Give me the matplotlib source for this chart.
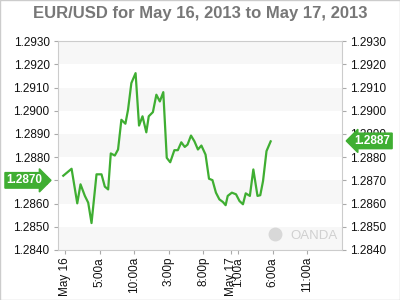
import matplotlib.pyplot as plt

plt.rcParams['font.family'] = ['Liberation Sans', 'DejaVu Sans']

# hours since May 16 00:00
hours = [-0.24, 0.96, 1.78, 2.25, 2.88, 3.36, 3.84, 4.56, 5.28, 5.76, 6.24,
         6.62, 7.2, 7.67, 8.15, 8.73, 9.11, 9.59, 10.2, 10.7, 11.2, 11.75,
         12.1, 12.7, 13.2, 13.7, 14.2, 14.7, 15.2, 15.8, 16.3, 16.8, 17.3,
         17.7, 18.2, 18.7, 19.2, 19.7, 20.3, 20.8, 21.3, 21.8, 22.3, 22.8,
         23.2, 23.5, 24.1, 24.7, 25.2, 25.7, 26.1, 26.7, 27.2, 27.8, 28.2,
         28.6, 29.1, 29.7]
prices = [1.28720, 1.28750, 1.28601, 1.28683, 1.28633, 1.28604, 1.28516,
          1.28726, 1.28726, 1.28673, 1.28661, 1.28816, 1.28807, 1.28833,
          1.28961, 1.28944, 1.29004, 1.29119, 1.29162, 1.28936, 1.28976,
          1.28907, 1.28976, 1.28994, 1.29069, 1.29040, 1.29080, 1.28797,
          1.28778, 1.28830, 1.28830, 1.28864, 1.28844, 1.28854, 1.28893,
          1.28868, 1.28833, 1.28850, 1.28811, 1.28707, 1.28701, 1.28647,
          1.28618, 1.28607, 1.28593, 1.28633, 1.28647, 1.28640, 1.28611,
          1.28597, 1.28644, 1.28633, 1.28747, 1.28633, 1.28636, 1.28697,
          1.28826, 1.28868]
open_price = 1.2870
last_price = 1.2887

tick_hours = [0, 5, 10, 15, 20, 24, 25, 30, 35]
tick_labels = ['May 16', '5:00a', '10:00a', '3:00p', '8:00p', 'May 17',
               '1:00a', '6:00a', '11:00a']
y_ticks = [1.2840, 1.2850, 1.2860, 1.2870, 1.2880, 1.2890, 1.2900, 1.2910,
           1.2920, 1.2930]

green = '#3fae32'

fig = plt.figure(figsize=(4, 3), dpi=100)
ax = fig.add_axes([0.145, 0.1667, 0.71, 0.6963])

for lo in [1.2840, 1.2860, 1.2880, 1.2900, 1.2920]:
    ax.axhspan(lo, lo + 0.001, color='#f7f7f7', zorder=0, lw=0)

ax.plot(hours, prices, color=green, lw=1.6, zorder=3)

ax.set_xlim(-1, 40)
ax.set_ylim(1.2840, 1.2930)
ax.set_yticks(y_ticks)
ax.set_yticklabels(['%.4f' % v for v in y_ticks])
ax.set_xticks(tick_hours)
ax.set_xticklabels(tick_labels, rotation=90)
ax.tick_params(axis='both', labelsize=8.5, color='#aaaaaa', length=3,
               labelcolor='#111111')
ax.tick_params(axis='y', right=True, labelright=True, pad=3)
ax.tick_params(axis='x', pad=2)
for s in ax.spines.values():
    s.set_color('#cccccc')

# watermark
ax.text(0.985, 0.04, 'OANDA', transform=ax.transAxes, ha='right',
        va='bottom', color='#d0d0d0', fontsize=9.5)
ax.plot([0.765], [0.075], transform=ax.transAxes, marker='o', ms=9,
        color='#d8d8d8', zorder=2)

ax.annotate('%.4f' % open_price, xy=(0, open_price),
            xycoords=('axes fraction', 'data'), xytext=(-11, 0),
            textcoords='offset points', ha='right', va='center',
            color='white', fontsize=8.5, fontweight='bold',
            bbox=dict(boxstyle='rarrow,pad=0.15', fc=green, ec=green))
ax.annotate('%.4f' % last_price, xy=(1, last_price),
            xycoords=('axes fraction', 'data'), xytext=(9, 0),
            textcoords='offset points', ha='left', va='center',
            color='white', fontsize=8.5, fontweight='bold',
            bbox=dict(boxstyle='larrow,pad=0.15', fc=green, ec=green))

fig.text(0.5, 0.955, 'EUR/USD for May 16, 2013 to May 17, 2013',
         ha='center', va='center', fontsize=12, fontweight='bold',
         color='#777777')

fig.patches.append(plt.Rectangle((0, 0), 1, 1, transform=fig.transFigure,
                                 fill=False, ec='#cccccc', lw=1))

fig.savefig('out.png', dpi=100)
